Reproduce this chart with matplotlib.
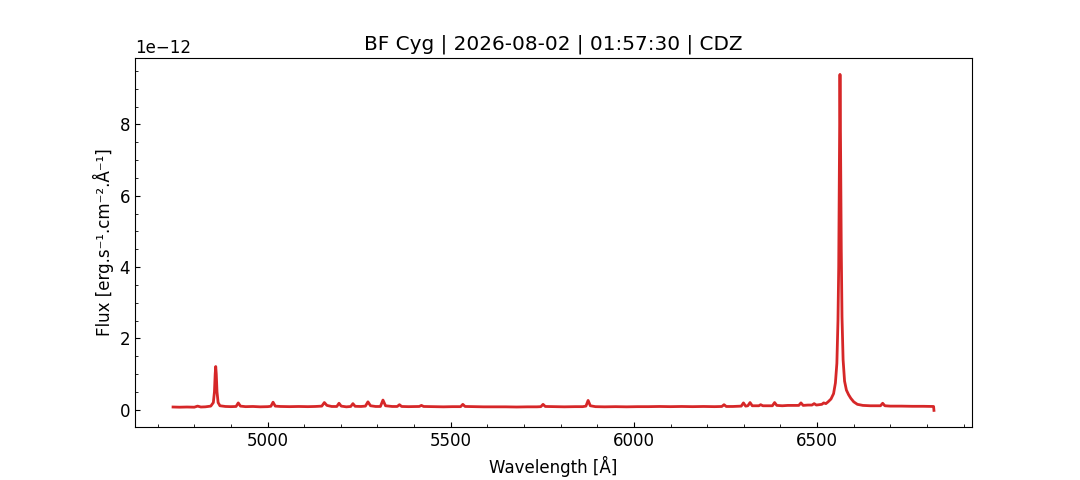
import matplotlib
matplotlib.use("Agg")
import matplotlib.pyplot as plt

plt.rcParams["font.size"] = 12

# BF Cyg spectrum (flux in units of 1e-12)
wavelength = [
    4742, 4760, 4780, 4800, 4809, 4818, 4830, 4845, 4852, 4855, 4857, 4858.5,
    4860, 4862, 4865, 4870, 4885, 4900, 4914, 4920, 4926, 4940, 4960, 4980,
    5000, 5009, 5015, 5021, 5035, 5060, 5085, 5110, 5130, 5148, 5155, 5162,
    5175, 5189, 5195, 5201, 5215, 5227, 5233, 5239, 5255, 5267, 5274, 5281,
    5295, 5308, 5315, 5322, 5340, 5354, 5360, 5366, 5385, 5405, 5414, 5420,
    5426, 5450, 5480, 5505, 5527, 5533, 5539, 5560, 5590, 5620, 5650, 5680,
    5710, 5735, 5746, 5752, 5758, 5780, 5810, 5840, 5860, 5869, 5875, 5881,
    5895, 5920, 5950, 5980, 6010, 6040, 6070, 6100, 6130, 6160, 6190, 6220,
    6240, 6246, 6252, 6270, 6285, 6293, 6299, 6305, 6311, 6317, 6323, 6335,
    6341, 6346, 6352, 6365, 6378, 6384, 6390, 6405, 6420, 6438, 6450, 6456,
    6462, 6475, 6486, 6492, 6498, 6506, 6513, 6518, 6524, 6530, 6538, 6545,
    6550, 6554, 6557, 6559, 6561, 6562.5, 6564, 6566, 6568, 6571, 6575, 6580,
    6586, 6592, 6600, 6610, 6625, 6645, 6662, 6673, 6679, 6685, 6700, 6730,
    6760, 6790, 6815, 6818, 6819,
]
flux = [
    0.075, 0.070, 0.075, 0.070, 0.100, 0.075, 0.080, 0.100, 0.200, 0.500, 1.000, 1.210,
    1.000, 0.500, 0.200, 0.110, 0.090, 0.085, 0.090, 0.190, 0.100, 0.085, 0.090, 0.080,
    0.085, 0.095, 0.210, 0.100, 0.090, 0.085, 0.090, 0.085, 0.090, 0.100, 0.200, 0.120,
    0.090, 0.090, 0.180, 0.100, 0.080, 0.090, 0.170, 0.095, 0.090, 0.100, 0.220, 0.110,
    0.090, 0.090, 0.270, 0.110, 0.090, 0.090, 0.140, 0.090, 0.085, 0.090, 0.090, 0.120,
    0.090, 0.085, 0.080, 0.085, 0.085, 0.150, 0.090, 0.085, 0.080, 0.080, 0.080, 0.075,
    0.080, 0.080, 0.085, 0.150, 0.090, 0.085, 0.080, 0.085, 0.085, 0.100, 0.260, 0.110,
    0.085, 0.080, 0.085, 0.080, 0.085, 0.085, 0.090, 0.085, 0.090, 0.085, 0.090, 0.085,
    0.090, 0.140, 0.090, 0.090, 0.095, 0.100, 0.190, 0.100, 0.110, 0.200, 0.110, 0.110,
    0.110, 0.140, 0.110, 0.110, 0.110, 0.200, 0.120, 0.110, 0.120, 0.120, 0.120, 0.190,
    0.120, 0.130, 0.130, 0.170, 0.130, 0.140, 0.150, 0.190, 0.170, 0.220, 0.300, 0.450,
    0.750, 1.300, 2.500, 4.000, 7.000, 9.400, 7.500, 4.500, 2.600, 1.400, 0.800, 0.550,
    0.420, 0.320, 0.220, 0.150, 0.120, 0.110, 0.110, 0.110, 0.180, 0.110, 0.100, 0.100,
    0.095, 0.095, 0.090, 0.090, -0.020,
]
flux = [f * 1e-12 for f in flux]

fig, ax = plt.subplots(figsize=(10.8, 4.8), dpi=100)

ax.plot(wavelength, flux, color="#d62728", linewidth=2)

ax.set_title("BF Cyg | 2026-08-02 | 01:57:30 | CDZ")
ax.set_xlabel("Wavelength [Å]")
ax.set_ylabel("Flux [erg.s⁻¹.cm⁻².Å⁻¹]")

ax.minorticks_on()
ax.tick_params(which="both", direction="in")

fig.savefig("out.png", dpi=100)
